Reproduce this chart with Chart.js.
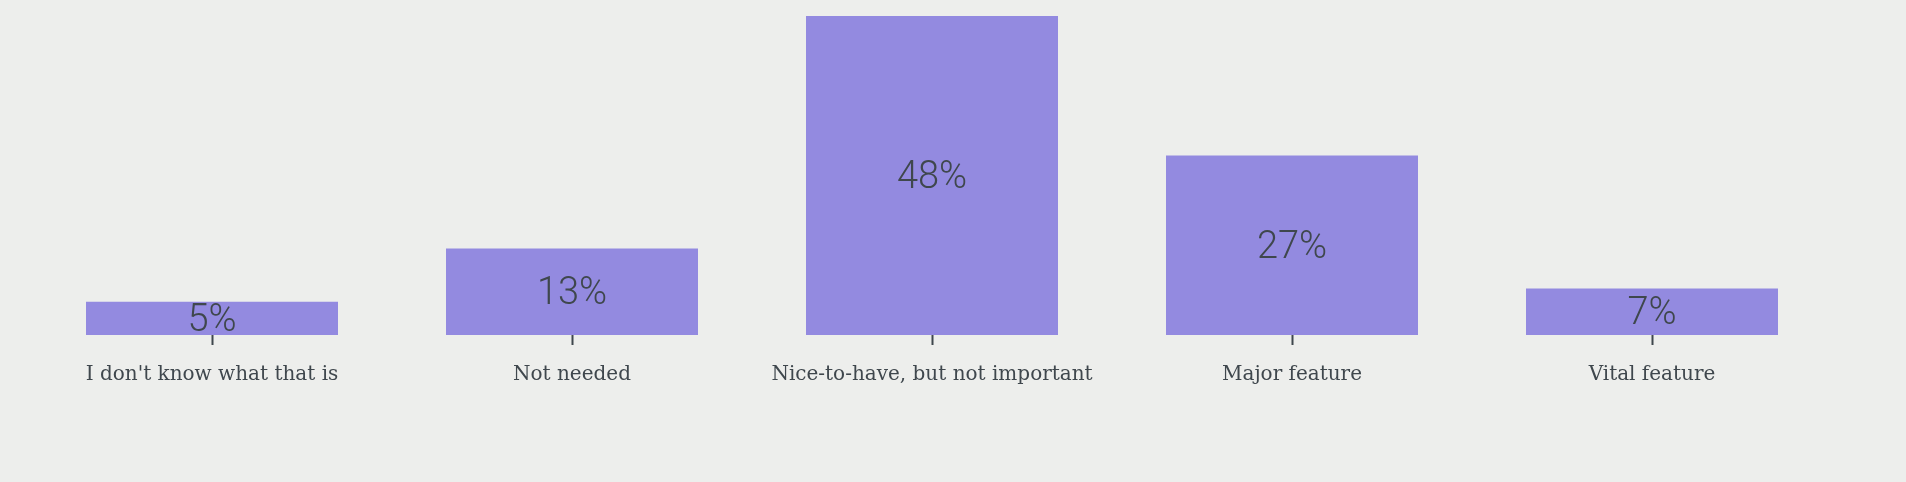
<!DOCTYPE html>
<html>
<head>
<meta charset="utf-8">
<script src="https://cdn.jsdelivr.net/npm/chart.js@4/dist/chart.umd.min.js"></script>
<style>
  html, body { margin: 0; padding: 0; background: #edeeec; }
  #wrap { width: 1906px; height: 482px; }
</style>
</head>
<body>
<div id="wrap"><canvas id="chart" width="1906" height="482"></canvas></div>
<script>
// Respostas (percentagens)
const categories = ["I don't know what that is", 'Not needed', 'Nice-to-have, but not important', 'Major feature', 'Vital feature'];
const shares = [5, 13, 48, 27, 7];

const textColor = '#3f474d';

// valores no meio de cada barra
const valueLabels = {
  id: 'valueLabels',
  afterDatasetsDraw(chart) {
    const ctx = chart.ctx;
    const meta = chart.getDatasetMeta(0);
    ctx.save();
    ctx.font = '300 38px Roboto, "Noto Sans", sans-serif';
    ctx.fillStyle = textColor;
    ctx.textAlign = 'center';
    ctx.textBaseline = 'middle';
    meta.data.forEach((bar, i) => {
      const mid = (bar.y + bar.base) / 2;
      ctx.fillText(shares[i] + '%', bar.x, mid + 3);
    });
    ctx.restore();
  }
};

const config = {
  type: 'bar',
  data: {
    labels: categories,
    datasets: [{
      data: shares,
      backgroundColor: '#938ae0',
      borderWidth: 0,
      categoryPercentage: 0.7,
      barPercentage: 1.0
    }]
  },
  options: {
    responsive: false,
    animation: false,
    layout: { padding: { left: 32, right: 74, top: 16, bottom: 77 } },
    plugins: { legend: { display: false }, tooltip: { enabled: false } },
    scales: {
      x: {
        border: { display: false },
        grid: { display: true, offset: false, drawOnChartArea: false, drawTicks: true, tickLength: 10, tickWidth: 2, tickColor: textColor },
        ticks: { color: textColor, padding: 18, font: { family: '"DejaVu Serif", serif', size: 20 }, maxRotation: 0 }
      },
      y: {
        display: false,
        min: 0,
        max: 48
      }
    }
  },
  plugins: [valueLabels]
};

const chart = new Chart(document.getElementById('chart'), config);
</script>
</body>
</html>
